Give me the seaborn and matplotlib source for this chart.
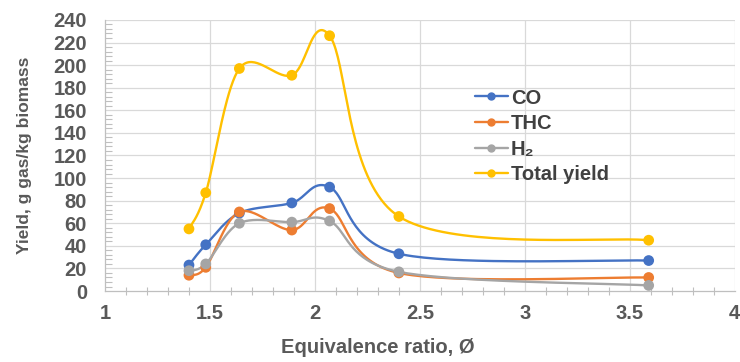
import numpy as np
import pandas as pd
import matplotlib
matplotlib.use("Agg")
import matplotlib.pyplot as plt
import seaborn as sns
from matplotlib.lines import Line2D
from matplotlib.ticker import MultipleLocator

# ---- data ----
phi = [1.40, 1.48, 1.64, 1.89, 2.07, 2.40, 3.59]
co = [23, 41, 69, 78, 92, 33, 27]
thc = [14, 21, 70, 54, 73, 16, 12]
h2 = [18, 24, 60, 61, 62, 17, 5]
total = [55, 87, 197, 191, 226, 66, 45]
series_names = ["CO", "THC", "H\u2082", "Total yield"]
series_values = [co, thc, h2, total]
colors = ["#4472C4", "#ED7D31", "#A5A5A5", "#FFC000"]
x_ticks = [1, 1.5, 2, 2.5, 3, 3.5, 4]
y_ticks = list(range(0, 241, 20))

sns.set_theme(style="white")
plt.rcParams["font.family"] = ["Liberation Sans", "DejaVu Sans"]
plt.rcParams["font.weight"] = "bold"

fig = plt.figure(figsize=(7.4, 3.62), dpi=100)
ax = fig.add_axes([0.1419, 0.196, 0.851, 0.749])
ax.set_xlim(1, 4)
ax.set_ylim(0, 240)

# pixel scale for Excel-like smoothing
sx, sy = 210.0, 271.0 / 240.0


def smooth(xs, ys, n=40):
    P = np.column_stack([np.asarray(xs) * sx, np.asarray(ys) * sy])
    P = np.vstack([P[0], P, P[-1]])
    out = []
    for i in range(1, len(P) - 2):
        p0, p1, p2, p3 = P[i - 1], P[i], P[i + 1], P[i + 2]
        c1 = p1 + (p2 - p0) / 6.0
        c2 = p2 - (p3 - p1) / 6.0
        t = np.linspace(0, 1, n)[:, None]
        b = ((1 - t) ** 3) * p1 + 3 * ((1 - t) ** 2) * t * c1 + 3 * (1 - t) * t ** 2 * c2 + t ** 3 * p2
        out.append(b if i == 1 else b[1:])
    B = np.vstack(out)
    return B[:, 0] / sx, B[:, 1] / sy


# grid
for yv in y_ticks[1:]:
    ax.axhline(yv, color="#D9D9D9", lw=0.9, zorder=0)
for xv in x_ticks[1:]:
    ax.axvline(xv, color="#D9D9D9", lw=0.9, zorder=0)

for name, vals, col in zip(series_names, series_values, colors):
    cx, cy = smooth(phi, vals)
    df_line = pd.DataFrame({"x": cx, "y": cy})
    sns.lineplot(data=df_line, x="x", y="y", sort=False, estimator=None,
                 color=col, lw=1.7, ax=ax, zorder=3)
    df_pts = pd.DataFrame({"x": phi, "y": vals})
    sns.scatterplot(data=df_pts, x="x", y="y", color=col, s=60,
                    edgecolor="none", ax=ax, zorder=4)

ax.set_xticks(x_ticks)
ax.set_xticklabels([f"{v:g}" for v in x_ticks])
ax.set_yticks(y_ticks)
ax.xaxis.set_minor_locator(MultipleLocator(0.1))
ax.yaxis.set_minor_locator(MultipleLocator(4))
ax.tick_params(axis="both", which="major", labelsize=14.5, colors="#BFBFBF",
               labelcolor="#595959", length=0)
ax.tick_params(axis="y", which="major", pad=13)
ax.tick_params(axis="x", which="major", pad=9)
ax.tick_params(axis="x", which="minor", direction="inout", length=6,
               color="#BFBFBF", width=0.8, bottom=True)
ax.tick_params(axis="y", which="minor", direction="in", length=5,
               color="#BFBFBF", width=0.8, left=True)
for lab in ax.get_xticklabels() + ax.get_yticklabels():
    lab.set_fontweight("bold")

for side in ["top", "right"]:
    ax.spines[side].set_visible(False)
for side in ["left", "bottom"]:
    ax.spines[side].set_color("#BFBFBF")
    ax.spines[side].set_linewidth(0.9)

ax.set_xlabel("Equivalence ratio, \u00d8", fontsize=14.5, fontweight="bold",
              color="#595959")
ax.xaxis.set_label_coords(0.433, -0.175)
ax.set_ylabel("Yield, g gas/kg biomass", fontsize=12.5, fontweight="bold",
              color="#595959", labelpad=15)

handles = [Line2D([0], [0], color=c, lw=1.7, marker="o", markersize=5)
           for c in colors]
leg = ax.legend(handles, series_names, loc="upper left",
                bbox_to_anchor=(0.587, 0.747), frameon=False, fontsize=14.5,
                handlelength=1.65, handletextpad=0.15, labelspacing=0.33,
                borderaxespad=0, borderpad=0)
for t in leg.get_texts():
    t.set_fontweight("bold")
    t.set_color("#404040")

fig.savefig("out.png", dpi=100)
